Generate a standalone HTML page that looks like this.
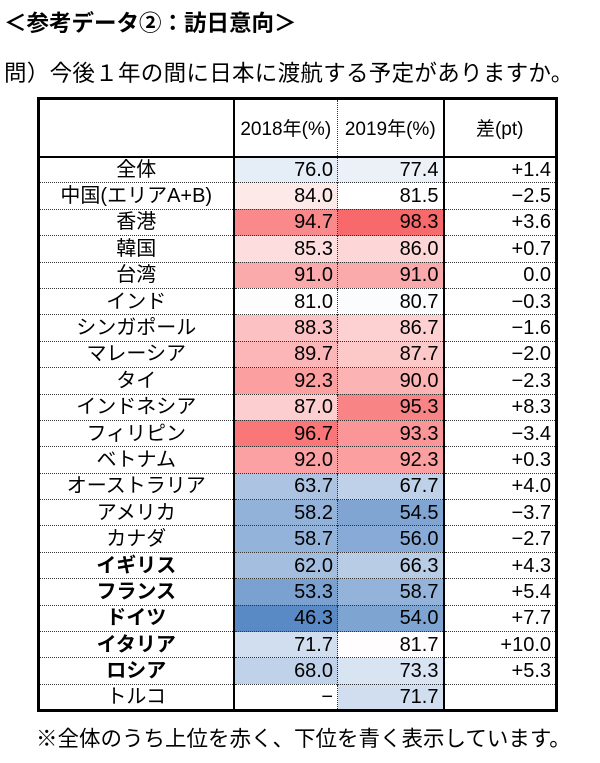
<!DOCTYPE html>
<html><head><meta charset="utf-8"><style>
body{margin:0;width:600px;height:763px;background:#fff;font-family:"Liberation Sans","Noto Sans CJK JP",sans-serif;position:relative;overflow:hidden;color:#000}
#title{position:absolute;left:4px;top:6px;font-size:22.5px;font-weight:bold;white-space:nowrap}
#sub{position:absolute;left:4px;top:56px;font-size:22.5px;white-space:nowrap;letter-spacing:0.3px}
#note{position:absolute;left:36px;top:722px;font-size:21.5px;white-space:nowrap}
table{position:absolute;left:37px;top:97px;border-collapse:collapse;border:3px solid #000}
td{height:26.4px;padding:0 4px;font-size:20px;line-height:24px;border-top:1px dotted #333;box-sizing:border-box}
th{height:58px;font-weight:normal;font-size:19px;border-bottom:2px solid #000;box-sizing:border-box;padding:0}
.n{width:195px;text-align:center;border-right:2px solid #000}
.a{width:104px;text-align:right;border-right:1px dotted #333}
.b{width:106px;text-align:right;border-right:2px solid #000}
.d{width:113px;text-align:right}
.bold{font-weight:bold}
</style></head><body>
<div id="title">＜参考データ②：訪日意向＞</div>
<div id="sub">問）今後１年の間に日本に渡航する予定がありますか。</div>
<table id="t">
<tr><th class="n"></th><th class="a" style="text-align:center">2018年(%)</th><th class="b" style="text-align:center">2019年(%)</th><th class="d" style="text-align:center">差(pt)</th></tr>
</table>
<div id="note">※全体のうち上位を赤く、下位を青く表示しています。</div>
<script>
const names=["全体","中国(エリアA+B)","香港","韓国","台湾","インド","シンガポール","マレーシア","タイ","インドネシア","フィリピン","ベトナム","オーストラリア","アメリカ","カナダ","イギリス","フランス","ドイツ","イタリア","ロシア","トルコ"];
const v2018=[76.0,84.0,94.7,85.3,91.0,81.0,88.3,89.7,92.3,87.0,96.7,92.0,63.7,58.2,58.7,62.0,53.3,46.3,71.7,68.0,null];
const v2019=[77.4,81.5,98.3,86.0,91.0,80.7,86.7,87.7,90.0,95.3,93.3,92.3,67.7,54.5,56.0,66.3,58.7,54.0,81.7,73.3,71.7];
const diffs=["+1.4","−2.5","+3.6","+0.7","0.0","−0.3","−1.6","−2.0","−2.3","+8.3","−3.4","+0.3","+4.0","−3.7","−2.7","+4.3","+5.4","+7.7","+10.0","+5.3",""];
const boldRows=["イギリス","フランス","ドイツ","イタリア","ロシア"];
const vmin=46.3,vmid=81.5,vmax=98.3;
function color(v){
  if(v==null)return "#fff";
  let c1,t;
  if(v>=vmid){t=(v-vmid)/(vmax-vmid);c1=[248,105,107];}
  else{t=(vmid-v)/(vmid-vmin);c1=[90,138,198];}
  t=Math.max(0,Math.min(1,t));
  const c=c1.map(x=>Math.round(255+(x-255)*t));
  return `rgb(${c[0]},${c[1]},${c[2]})`;
}
const tb=document.getElementById('t');
names.forEach((nm,i)=>{
  const tr=document.createElement('tr');
  
  
  const c0=document.createElement('td');c0.className='n'+(boldRows.includes(nm)?' bold':'');c0.textContent=nm;
  
  
  const c1=document.createElement('td');c1.className='a';c1.textContent=v2018[i]==null?'−':v2018[i].toFixed(1);c1.style.background=color(v2018[i]);
  
  
  const c2=document.createElement('td');c2.className='b';c2.textContent=v2019[i].toFixed(1);c2.style.background=color(v2019[i]);
  
  
  const c3=document.createElement('td');c3.className='d';c3.textContent=diffs[i];
  
  
  tr.append(c0,c1,c2,c3);tb.appendChild(tr);
});
</script>
</body></html>
